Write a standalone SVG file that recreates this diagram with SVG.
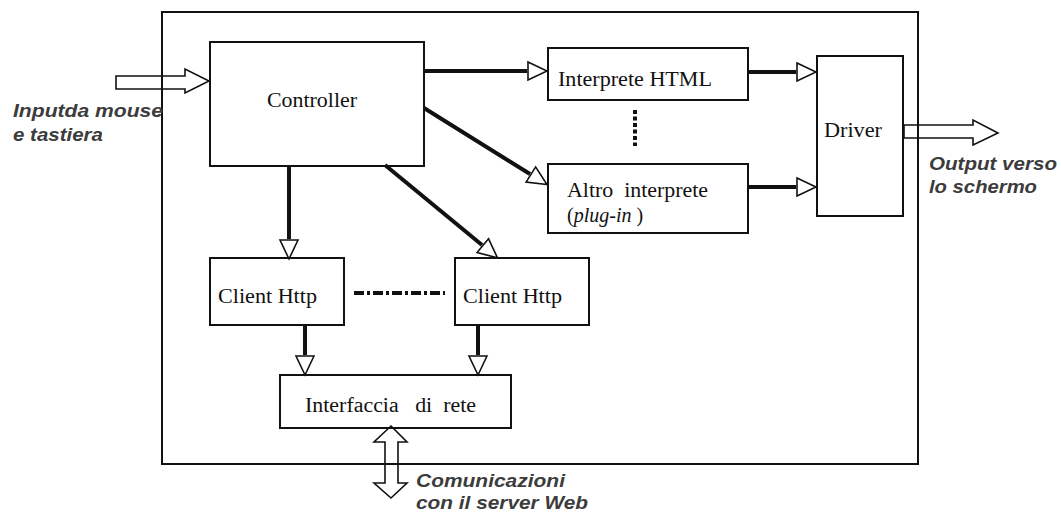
<svg xmlns="http://www.w3.org/2000/svg" width="1061" height="512" viewBox="0 0 1061 512">
  <style>
    .box { fill: #fff; stroke: #111; stroke-width: 2; }
    .frame { fill: none; stroke: #111; stroke-width: 2; }
    .wire { fill: none; stroke: #111; stroke-width: 4; }
    .block { fill: none; stroke: #111; stroke-width: 1.6; stroke-linejoin: miter; }
    .lbl { font-family: "Liberation Serif", "Times New Roman", serif; font-size: 20px; fill: #111; }
    .note { font-family: "Liberation Sans", Arial, sans-serif; font-size: 19px; font-style: italic; font-weight: bold; fill: #3c3c3c; }
  </style>
  <defs>
    <marker id="hollow" viewBox="0 0 22 22" refX="0" refY="11" markerWidth="22" markerHeight="22" markerUnits="userSpaceOnUse" orient="auto">
      <path d="M1,2 L20,11 L1,20 Z" fill="#fff" stroke="#111" stroke-width="1.6"/>
    </marker>
  </defs>

  <rect width="1061" height="512" fill="#fff"/>

  <!-- outer browser boundary -->
  <rect id="browser" class="frame" x="162" y="12" width="756" height="452"/>

  <!-- components -->
  <g id="controller">
    <rect class="box" x="210" y="42" width="214" height="124"/>
    <text class="lbl" x="267" y="107" textLength="90" lengthAdjust="spacingAndGlyphs">Controller</text>
  </g>
  <g id="interprete-html">
    <rect class="box" x="548" y="48" width="200" height="52"/>
    <text class="lbl" x="558" y="86" textLength="154" lengthAdjust="spacingAndGlyphs">Interprete HTML</text>
  </g>
  <g id="altro-interprete">
    <rect class="box" x="548" y="164" width="200" height="69"/>
    <text class="lbl" x="567" y="197" textLength="141" lengthAdjust="spacingAndGlyphs" xml:space="preserve">Altro  interprete</text>
    <text class="lbl" x="567" y="222" xml:space="preserve">(<tspan font-style="italic">plug-in</tspan> )</text>
  </g>
  <g id="driver">
    <rect class="box" x="817" y="56" width="86" height="160"/>
    <text class="lbl" x="824" y="137" textLength="58" lengthAdjust="spacingAndGlyphs">Driver</text>
  </g>
  <g id="client-http-1">
    <rect class="box" x="210" y="258" width="134" height="67"/>
    <text class="lbl" x="218" y="303" textLength="99" lengthAdjust="spacingAndGlyphs">Client Http</text>
  </g>
  <g id="client-http-2">
    <rect class="box" x="455" y="258" width="134" height="67"/>
    <text class="lbl" x="463" y="303" textLength="99" lengthAdjust="spacingAndGlyphs">Client Http</text>
  </g>
  <g id="interfaccia-rete">
    <rect class="box" x="280" y="375" width="231" height="53"/>
    <text class="lbl" x="305" y="412" textLength="171" lengthAdjust="spacingAndGlyphs" xml:space="preserve">Interfaccia   di  rete</text>
  </g>

  <!-- connectors -->
  <g id="connectors">
    <line class="wire" x1="424" y1="71" x2="527" y2="71" marker-end="url(#hollow)"/>
    <line class="wire" x1="748" y1="72" x2="796" y2="72" marker-end="url(#hollow)"/>
    <line class="wire" x1="748" y1="187" x2="796" y2="187" marker-end="url(#hollow)"/>
    <line class="wire" x1="424" y1="108" x2="530" y2="174" marker-end="url(#hollow)"/>
    <line class="wire" x1="289" y1="166" x2="289" y2="239" marker-end="url(#hollow)"/>
    <line class="wire" x1="385" y1="165" x2="482" y2="245" marker-end="url(#hollow)"/>
    <line class="wire" x1="305" y1="325" x2="305" y2="355" marker-end="url(#hollow)"/>
    <line class="wire" x1="478" y1="325" x2="478" y2="355" marker-end="url(#hollow)"/>
    <!-- ellipsis between interpreters and between clients -->
    <line class="wire" x1="635" y1="110" x2="635" y2="146" stroke-dasharray="4 2.5"/>
    <line class="wire" x1="354" y1="293" x2="445" y2="293" stroke-width="3" stroke-dasharray="10 3 3 3"/>
    <!-- external I/O block arrows -->
    <polygon class="block" points="116,76 185,76 185,69 209,81 185,93 185,89 116,89"/>
    <polygon class="block" points="904,125 973,125 973,120 998,133 973,145 973,138 904,138"/>
    <polygon class="block" points="391,426 407,442 398,442 398,483 407,483 391,498 374,483 385,483 385,442 374,442"/>
  </g>

  <!-- external labels -->
  <g id="labels">
    <text class="note" x="13" y="117" textLength="150" lengthAdjust="spacingAndGlyphs">Inputda mouse</text>
    <text class="note" x="13" y="141" textLength="90" lengthAdjust="spacingAndGlyphs">e tastiera</text>
    <text class="note" x="929" y="170" textLength="128" lengthAdjust="spacingAndGlyphs">Output verso</text>
    <text class="note" x="929" y="193" textLength="108" lengthAdjust="spacingAndGlyphs">lo schermo</text>
    <text class="note" x="416" y="487" textLength="149" lengthAdjust="spacingAndGlyphs">Comunicazioni</text>
    <text class="note" x="416" y="509" textLength="172" lengthAdjust="spacingAndGlyphs">con il server Web</text>
  </g>
</svg>
